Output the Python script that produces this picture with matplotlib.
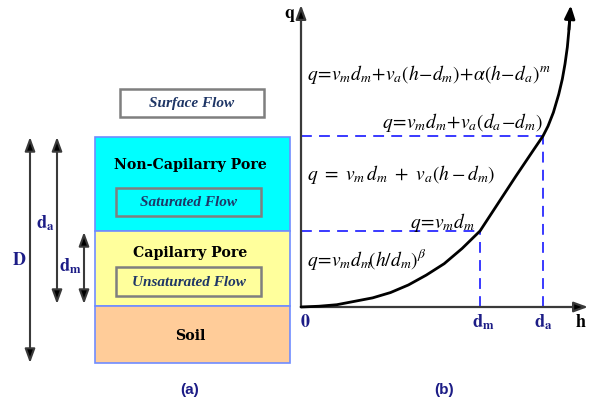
import matplotlib
matplotlib.use("Agg")
import matplotlib.pyplot as plt
from matplotlib.patches import Rectangle

plt.rcParams['mathtext.fontset'] = 'stix'

# ---------------- data ----------------
# Soil column layers (top to bottom) and their flow regimes
layer_names = ['Non-Capilarry Pore', 'Capilarry Pore', 'Soil']
layer_flows = ['Saturated Flow', 'Unsaturated Flow', None]
surface_label = 'Surface Flow'

# Storage curve q(h): points along the outflow curve (h in units of d_m)
h_curve = [0.0, 0.10, 0.20, 0.30, 0.40, 0.50, 0.60, 0.70, 0.80, 0.90, 1.00,
           1.10, 1.20, 1.30, 1.352, 1.38, 1.41, 1.44, 1.46, 1.475, 1.488, 1.497, 1.503, 1.507]
q_curve = [0.0, 0.01, 0.03, 0.075, 0.12, 0.19, 0.29, 0.42, 0.57, 0.77, 1.00,
           1.36, 1.72, 2.07, 2.25, 2.38, 2.56, 2.80, 3.00, 3.20, 3.42, 3.65, 3.87, 3.97]
d_m, d_a = 1.0, 1.352
q_dm, q_da = 1.0, 2.25

equations = [
    r'$q\!=\!v_m d_m\!+\!v_a(h\!-\!d_m)\!+\!\alpha\left(h\!-\!d_a\right)^m$',
    r'$q\!=\!v_m d_m\!+\!v_a(d_a\!-\!d_m)$',
    r'$q\ =\ v_m\,d_m\ +\ v_a(h - d_m)$',
    r'$q\!=\!v_m d_m$',
    r'$q\!=\!v_m d_m\!\left(h/d_m\right)^\beta$',
]

# ---------------- styles ----------------
NAVY = '#1c1c86'
TXT_NAVY = '#1f3666'
ARROW_GREY = '#3a3a3a'
DASH_BLUE = '#2a2aff'
layer_colors = ['#00ffff', '#ffff9c', '#ffcc99']
edge_blue = '#6f8cff'
serif_bold = dict(family='DejaVu Serif', weight='bold')
italic_box = dict(family='Liberation Serif', style='italic', weight='bold')

W, H = 591, 405
fig = plt.figure(figsize=(W / 100, H / 100), dpi=100)
fig.patch.set_facecolor('white')

# ---------------- panel (a): soil column ----------------
ax1 = fig.add_axes([0, 0, 280 / W, 1])
ax1.set_xlim(0, 280)
ax1.set_ylim(H, 0)
ax1.axis('off')

col_x0, col_x1 = 95, 290
bounds = [137, 231, 306, 363]
for i, name in enumerate(layer_names):
    top, bot = bounds[i], bounds[i + 1]
    ax1.add_patch(Rectangle((col_x0, top), col_x1 - col_x0, bot - top,
                            facecolor=layer_colors[i], edgecolor=edge_blue,
                            lw=1.2, clip_on=False, zorder=1))

label_y = [165, 253, 336]
for name, y in zip(layer_names, label_y):
    ax1.text(190, y, name, ha='center', va='center', fontsize=10.2,
             color='black', **serif_bold)

def flow_box(ax, x0, x1, y0, y1, text):
    ax.add_patch(Rectangle((x0, y0), x1 - x0, y1 - y0, facecolor='none',
                           edgecolor='#7f7f7f', lw=1.8, clip_on=False, zorder=2))
    ax.text((x0 + x1) / 2, (y0 + y1) / 2 + 1, text, ha='center', va='center',
            fontsize=11, color=TXT_NAVY, **italic_box)

flow_box(ax1, 120, 264, 89, 117, surface_label)
flow_box(ax1, 116, 261, 188, 216, layer_flows[0])
flow_box(ax1, 116, 261, 267, 296, layer_flows[1])

arrow_kw = dict(arrowstyle='<|-|>,head_length=0.6,head_width=0.22',
                color=ARROW_GREY, lw=1.5, mutation_scale=14,
                shrinkA=0, shrinkB=0)
for x, y0, y1 in [(30, 137, 363), (57, 137, 304), (84, 232, 304)]:
    a = ax1.annotate('', xy=(x, y0), xytext=(x, y1), arrowprops=arrow_kw)
    a.arrow_patch.set_facecolor('black')

ax1.text(19, 260, r'$\mathbf{D}$', ha='center', va='center', fontsize=13, color=NAVY)
ax1.text(45, 223, r'$\mathbf{d_a}$', ha='center', va='center', fontsize=13, color=NAVY)
ax1.text(70, 266, r'$\mathbf{d_m}$', ha='center', va='center', fontsize=13, color=NAVY)
ax1.text(190, 390, '(a)', ha='center', va='center', fontsize=11,
         color=NAVY, family='Liberation Sans', weight='bold')

# ---------------- panel (b): q-h relation ----------------
ax2 = fig.add_axes([280 / W, 0, 311 / W, 1])
px_per_h, px_per_q = 179.0, 76.0
ax2.set_xlim(-21 / px_per_h, 290 / px_per_h)
ax2.set_ylim(-98 / px_per_q, 307 / px_per_q)
ax2.axis('off')

# coordinate axes with arrow heads
axis_kw = dict(arrowstyle='-|>,head_length=0.6,head_width=0.22', color=ARROW_GREY,
               lw=1.6, mutation_scale=14, shrinkA=0, shrinkB=0)
a = ax2.annotate('', xy=(0, 302 / px_per_q), xytext=(0, 0), arrowprops=axis_kw)
a.arrow_patch.set_facecolor('black')
a = ax2.annotate('', xy=(287 / px_per_h, 0), xytext=(0, 0), arrowprops=axis_kw)
a.arrow_patch.set_facecolor('black')

# dashed reference lines
dash_kw = dict(color=DASH_BLUE, lw=1.3, dashes=(6, 4), zorder=2)
ax2.plot([0, d_m], [q_dm, q_dm], **dash_kw)
ax2.plot([d_m, d_m], [0, q_dm], **dash_kw)
ax2.plot([0, d_a], [q_da, q_da], **dash_kw)
ax2.plot([d_a, d_a], [0, q_da], **dash_kw)

# outflow curve, ending in an arrow head
ax2.plot(h_curve[:-1], q_curve[:-1], color='black', lw=2.0, zorder=3,
         solid_capstyle='round', solid_joinstyle='round')
ax2.annotate('', xy=(h_curve[-1], q_curve[-1]),
             xytext=(h_curve[-3], q_curve[-3]),
             arrowprops=dict(arrowstyle='-|>,head_length=0.55,head_width=0.22',
                             color='black', lw=2.0, mutation_scale=14,
                             shrinkA=0, shrinkB=0))

# equations
eq_pos = [(307, 80), (382, 128), (307, 180), (410, 228), (307, 266)]
for eq, (px, py) in zip(equations, eq_pos):
    ax2.text((px - 301) / px_per_h, (307 - py) / px_per_q, eq, ha='left',
             va='baseline', fontsize=14, color='black')

# axis labels
lab_y = -15 / px_per_q
ax2.text(4 / px_per_h, lab_y, r'$\mathbf{0}$', ha='center', va='center',
         fontsize=13, color=NAVY)
ax2.text(d_m + 3 / px_per_h, lab_y, r'$\mathbf{d_m}$', ha='center', va='center',
         fontsize=13, color=NAVY)
ax2.text(d_a, lab_y, r'$\mathbf{d_a}$', ha='center', va='center',
         fontsize=13, color=NAVY)
ax2.text(280 / px_per_h, lab_y, r'$\mathbf{h}$', ha='center', va='center',
         fontsize=13, color='black')
ax2.text(-11 / px_per_h, 292 / px_per_q, r'$\mathbf{q}$', ha='center', va='center',
         fontsize=13, color='black')
ax2.text(143 / px_per_h, -83 / px_per_q, '(b)', ha='center', va='center',
         fontsize=11, color=NAVY, family='Liberation Sans', weight='bold')

fig.savefig('out.png', dpi=100, facecolor='white')
